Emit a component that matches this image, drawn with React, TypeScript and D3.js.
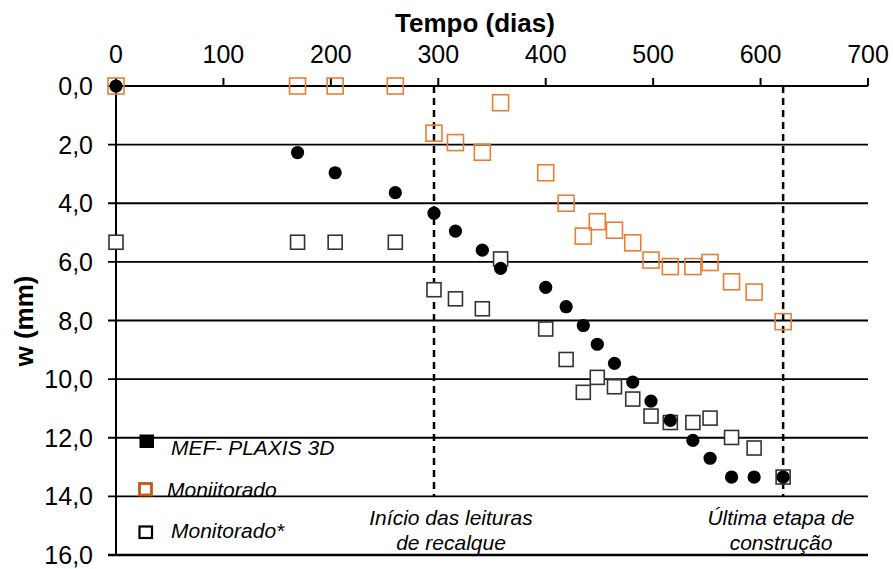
import React from "react";
import * as d3 from "d3";

const days = [0, 169, 204, 260, 296, 316, 341, 358, 400, 419, 435, 448, 464, 481, 498, 516, 537, 553, 573, 594, 621];
const mef = [0, 2.27, 2.96, 3.64, 4.34, 4.95, 5.6, 6.22, 6.87, 7.53, 8.17, 8.81, 9.46, 10.1, 10.75, 11.41, 12.09, 12.7, 13.34, 13.34, 13.34];
const monitorado = [0, 0, 0, 0, 1.61, 1.93, 2.26, 0.57, 2.96, 4.0, 5.12, 4.63, 4.92, 5.35, 5.94, 6.16, 6.16, 6.02, 6.68, 7.03, 8.04];
const monitoradoStar = [5.33, 5.33, 5.33, 5.33, 6.95, 7.26, 7.6, 5.9, 8.29, 9.33, 10.45, 9.94, 10.26, 10.68, 11.26, 11.48, 11.48, 11.33, 11.99, 12.35, 13.34];
const xTicks = [0, 100, 200, 300, 400, 500, 600, 700];
const yTicks = [0, 2, 4, 6, 8, 10, 12, 14, 16];
const markerDays = [296, 621];
const legendLabels = ["MEF- PLAXIS 3D", "Moniitorado", "Monitorado*"];
const annotations = [
  ["Início das leituras", "de recalque"],
  ["Última etapa de", "construção"],
];

const FONT = "'Liberation Sans', Arial, sans-serif";

export default function App() {
  const x = d3.scaleLinear().domain([0, 700]).range([116, 868]);
  const y = d3.scaleLinear().domain([0, 16]).range([86, 555]);
  const fmt = (v: number) => v.toFixed(1).replace(".", ",");
  const orange = "#ED7D31";

  return (
    <svg width={893} height={569} style={{ position: "absolute", left: 0, top: 0, background: "#fff" }} fontFamily={FONT}>
      {/* horizontal grid lines */}
      {yTicks.map((t) => (
        <line key={"g" + t} x1={108} x2={x(700)} y1={y(t)} y2={y(t)} stroke="#000" strokeWidth={t === 16 ? 2.5 : 1.8} />
      ))}
      {/* left axis */}
      <line x1={x(0)} x2={x(0)} y1={y(0)} y2={y(16)} stroke="#000" strokeWidth={2} />
      {/* top ticks */}
      {xTicks.map((t) => (
        <line key={"xt" + t} x1={x(t)} x2={x(t)} y1={y(0)} y2={y(0) - 8} stroke="#000" strokeWidth={2} />
      ))}
      {/* x tick labels */}
      {xTicks.map((t) => (
        <text key={"xl" + t} x={x(t)} y={63} textAnchor="middle" fontSize={25} fill="#000">
          {t}
        </text>
      ))}
      {/* y tick labels */}
      {yTicks.map((t) => (
        <text key={"yl" + t} x={93} y={y(t) + 9} textAnchor="end" fontSize={25} fill="#000">
          {fmt(t)}
        </text>
      ))}
      {/* titles */}
      <text x={475} y={32} textAnchor="middle" fontSize={26} fontWeight="bold" fill="#000">
        Tempo (dias)
      </text>
      <text transform={`translate(33,321) rotate(-90)`} textAnchor="middle" fontSize={26} fontWeight="bold" fill="#000">
        w (mm)
      </text>
      {/* dashed markers */}
      {markerDays.map((d) => (
        <line key={"m" + d} x1={x(d)} x2={x(d)} y1={y(0)} y2={y(14)} stroke="#000" strokeWidth={2.5} strokeDasharray="7,5" />
      ))}
      {/* Monitorado* */}
      {days.map((d, i) => (
        <rect key={"s" + i} x={x(d) - 7} y={y(monitoradoStar[i]) - 7} width={14} height={14} fill="#fff" stroke="#333" strokeWidth={1.6} />
      ))}
      {/* MEF */}
      {days.map((d, i) => (
        <circle key={"c" + i} cx={x(d)} cy={y(mef[i])} r={6.6} fill="#000" />
      ))}
      {/* Monitorado */}
      {days.map((d, i) => (
        <rect key={"o" + i} x={x(d) - 8} y={y(monitorado[i]) - 8} width={16} height={16} fill="none" stroke={orange} strokeWidth={1.6} />
      ))}
      {/* legend */}
      <rect x={139.5} y={434.5} width={14.5} height={13.5} fill="#000" />
      <rect x={139.5} y={483.5} width={12} height={11.5} fill="#fff" stroke="#C55A11" strokeWidth={2.8} />
      <rect x={139.5} y={526.5} width={12.5} height={11.5} fill="#fff" stroke="#000" strokeWidth={2.2} />
      <text x={171} y={455} fontSize={21} fontStyle="italic" fill="#000">{legendLabels[0]}</text>
      <text x={167} y={497} fontSize={21} fontStyle="italic" fill="#000">{legendLabels[1]}</text>
      <text x={171} y={538} fontSize={21} fontStyle="italic" fill="#000">{legendLabels[2]}</text>
      {/* annotations */}
      <text x={451} y={525} textAnchor="middle" fontSize={21} fontStyle="italic" fill="#000">{annotations[0][0]}</text>
      <text x={451} y={550} textAnchor="middle" fontSize={21} fontStyle="italic" fill="#000">{annotations[0][1]}</text>
      <text x={781} y={525} textAnchor="middle" fontSize={21} fontStyle="italic" fill="#000">{annotations[1][0]}</text>
      <text x={781} y={550} textAnchor="middle" fontSize={21} fontStyle="italic" fill="#000">{annotations[1][1]}</text>
    </svg>
  );
}
